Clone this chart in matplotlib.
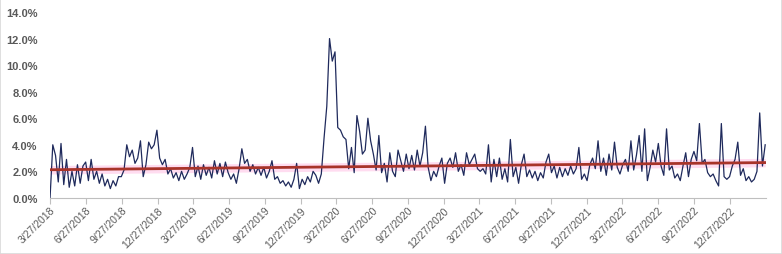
"""Weekly rate series with linear trend, 2018-2023."""

import matplotlib

matplotlib.use("Agg")
import matplotlib.pyplot as plt
import pandas as pd
from matplotlib.patches import Rectangle

# weekly readings (percent), one row per quarter starting 3/27/2018
q2018_1 = [0.0, 4.0, 3.2, 1.2, 4.1, 1.0, 2.9, 0.8, 2.0, 0.9, 2.5, 1.1, 2.4]
q2018_2 = [2.7, 1.3, 2.9, 1.4, 2.0, 1.1, 1.8, 0.9, 1.4, 0.7, 1.3, 0.9, 1.6]
q2018_3 = [1.6, 2.1, 4.0, 3.1, 3.6, 2.6, 3.0, 4.3, 1.6, 2.5, 4.2, 3.7, 4.0]
q2018_4 = [5.1, 3.0, 2.5, 2.9, 1.8, 2.2, 1.5, 1.9, 1.3, 2.0, 1.4, 1.8, 2.3]
q2019_1 = [3.8, 1.6, 2.4, 1.4, 2.5, 1.7, 2.3, 1.5, 2.8, 1.8, 2.6, 1.6, 2.7]
q2019_2 = [1.9, 1.4, 1.8, 1.1, 2.2, 3.7, 2.6, 2.9, 2.0, 2.5, 1.8, 2.3, 1.7]
q2019_3 = [2.3, 1.5, 2.0, 2.8, 1.4, 1.6, 1.1, 1.3, 0.9, 1.2, 0.8, 1.4, 2.6]
q2019_4 = [0.7, 1.4, 1.0, 1.6, 1.2, 2.0, 1.7, 1.1, 1.8, 4.5, 6.9, 12.0, 10.3]
q2020_1 = [11.0, 5.3, 5.1, 4.6, 4.4, 2.2, 3.8, 1.9, 6.2, 5.0, 3.3, 3.6, 6.0]
q2020_2 = [4.3, 3.3, 2.1, 4.7, 1.9, 2.6, 1.2, 3.4, 2.0, 1.6, 3.6, 2.8, 2.0]
q2020_3 = [3.3, 2.2, 3.2, 2.1, 3.6, 2.4, 3.4, 5.4, 2.3, 1.3, 2.0, 1.6, 2.4]
q2020_4 = [3.0, 1.1, 2.6, 3.0, 2.3, 3.4, 2.0, 2.5, 1.7, 3.4, 2.5, 2.9, 3.3]
q2021_1 = [2.2, 2.0, 2.2, 1.8, 4.0, 1.2, 2.9, 1.6, 3.0, 1.4, 2.2, 1.2, 4.4]
q2021_2 = [1.6, 2.3, 1.1, 2.5, 3.3, 1.6, 2.1, 1.5, 2.0, 1.3, 1.9, 1.5, 2.7]
q2021_3 = [3.3, 1.9, 2.4, 1.5, 2.3, 1.6, 2.2, 1.7, 2.4, 1.8, 2.2, 3.8, 1.4]
q2021_4 = [1.8, 1.3, 2.5, 3.0, 2.2, 4.3, 2.0, 3.0, 1.7, 3.3, 2.1, 4.2, 2.3]
q2022_1 = [1.8, 2.5, 2.9, 2.0, 4.3, 2.1, 3.2, 4.7, 2.0, 5.2, 1.3, 2.3, 3.6]
q2022_2 = [2.7, 4.1, 2.4, 1.7, 5.2, 2.1, 2.4, 1.5, 1.8, 1.3, 2.4, 3.4, 1.6]
q2022_3 = [2.9, 3.5, 2.8, 5.6, 2.6, 2.9, 1.9, 1.6, 1.8, 1.3, 0.9, 5.6, 1.6]
q2022_4 = [1.4, 1.6, 2.4, 2.9, 4.2, 1.7, 2.2, 1.3, 1.6, 1.2, 1.4, 2.0, 6.4]
tail_2023 = [2.4, 4.0]

# linear trend and its shaded band, at the first and last date
trend_pct = [2.12, 2.66]
band_low = [1.80, 2.34]
band_high = [2.44, 2.98]

yticks = [0, 2, 4, 6, 8, 10, 12, 14]

values = (q2018_1 + q2018_2 + q2018_3 + q2018_4 + q2019_1 + q2019_2 + q2019_3
          + q2019_4 + q2020_1 + q2020_2 + q2020_3 + q2020_4 + q2021_1 + q2021_2
          + q2021_3 + q2021_4 + q2022_1 + q2022_2 + q2022_3 + q2022_4 + tail_2023)
dates = pd.date_range("2018-03-27", periods=len(values), freq="7D")
ends = [dates[0], dates[-1]]
tick_dates = pd.date_range("2018-03-01", "2022-12-01", freq="3MS") + pd.Timedelta(days=26)

plt.rcParams["font.family"] = ["Liberation Sans", "DejaVu Sans"]

fig = plt.figure(figsize=(7.82, 2.55), dpi=100)
fig.patches.append(Rectangle((0, 0), 1, 1, transform=fig.transFigure, fill=False,
                             edgecolor="#D9D9D9", linewidth=1.2))
ax = fig.add_axes([0.064, 0.22, 0.916, 0.729])

ax.fill_between(ends, band_low, band_high, color="#FFDCF0", linewidth=0, zorder=1)
ax.plot(dates, values, color="#1F2A5C", linewidth=0.9, zorder=2)
ax.plot(ends, trend_pct, color="#A8342A", linewidth=2.0, zorder=3)

ax.set_ylim(0, 14)
ax.set_yticks(yticks)
ax.set_yticklabels([f"{v:.1f}%" for v in yticks], fontsize=8, fontweight="bold",
                   color="#595959")
ax.set_xlim(dates[0], dates[0] + pd.Timedelta(days=1830))
ax.set_xticks(tick_dates)
ax.set_xticklabels([f"{d.month}/{d.day}/{d.year}" for d in tick_dates], rotation=45,
                   ha="right", rotation_mode="anchor", fontsize=7.5, color="#595959")
ax.tick_params(axis="y", length=0, pad=9)
ax.tick_params(axis="x", length=4, color="#BFBFBF", pad=1)
for side in ("top", "right", "left"):
    ax.spines[side].set_visible(False)
ax.spines["bottom"].set_color("#BFBFBF")

fig.savefig("out.png", dpi=100)
